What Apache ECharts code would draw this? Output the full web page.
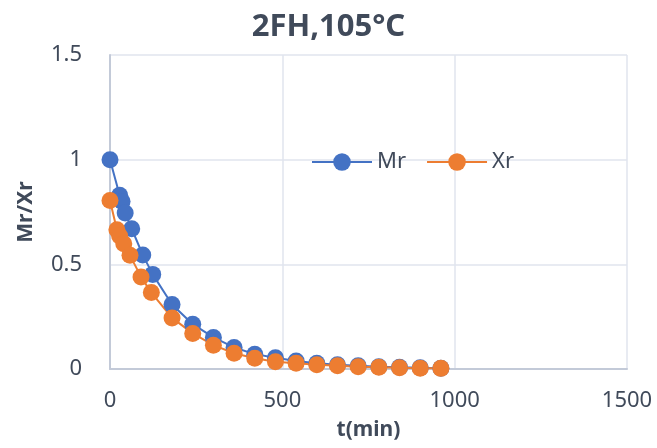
<!DOCTYPE html>
<html>
<head>
<meta charset="utf-8">
<script src="https://cdn.jsdelivr.net/npm/echarts@6/dist/echarts.min.js"></script>
<style>html,body{margin:0;padding:0;background:#fff}#c{width:657px;height:448px}</style>
</head>
<body>
<div id="c"></div>
<script>
const titleText = '2FH,105°C';
const xTicks = [0, 500, 1000, 1500];
const yTicks = [0, 0.5, 1, 1.5];
const mrTime = [0, 28, 35, 44, 63, 95, 124, 180, 240, 300, 360, 420, 480, 540, 600, 660, 720, 780, 840, 900, 960];
const mrValues = [1.0, 0.83, 0.80, 0.745, 0.67, 0.545, 0.452, 0.308, 0.214, 0.151, 0.103, 0.071, 0.054, 0.038, 0.028, 0.02, 0.015, 0.011, 0.008, 0.006, 0.004];
const xrTime = [0, 20, 28, 40, 58, 90, 120, 180, 240, 300, 360, 420, 480, 540, 600, 660, 720, 780, 840, 900, 960];
const xrValues = [0.805, 0.665, 0.635, 0.598, 0.543, 0.44, 0.365, 0.244, 0.17, 0.114, 0.075, 0.051, 0.035, 0.028, 0.02, 0.015, 0.011, 0.008, 0.006, 0.004, 0.003];

const txt = '#404a5a';
const font = '"Noto Sans", "Open Sans", sans-serif';
const chart = echarts.init(document.getElementById('c'), null, {renderer: 'canvas'});
chart.setOption({
  animation: false,
  backgroundColor: '#ffffff',
  title: {
    text: titleText, left: 'center', top: 7,
    textStyle: {fontFamily: font, fontSize: 31, fontWeight: 'bold', color: txt}
  },
  legend: {
    left: 306, top: 146, itemWidth: 60, itemHeight: 22, itemGap: 20,
    textStyle: {fontFamily: font, fontSize: 22, color: txt},
    data: ['Mr', 'Xr']
  },
  grid: {left: 110, right: 30, top: 55, bottom: 79, containLabel: false},
  xAxis: {
    type: 'value', min: xTicks[0], max: xTicks[xTicks.length - 1], interval: 500,
    name: 't(min)', nameLocation: 'middle', nameGap: 51,
    nameTextStyle: {fontFamily: font, fontSize: 21, fontWeight: 'bold', color: txt},
    axisLine: {show: true, lineStyle: {color: '#c3cad8', width: 2}},
    axisTick: {show: false},
    axisLabel: {fontFamily: font, fontSize: 22, color: txt, margin: 21, formatter: v => String(v)},
    splitLine: {show: true, lineStyle: {color: '#e1e5ee', width: 1.5}}
  },
  yAxis: {
    type: 'value', min: yTicks[0], max: yTicks[yTicks.length - 1], interval: 0.5,
    name: 'Mr/Xr', nameLocation: 'middle', nameGap: 73,
    nameTextStyle: {fontFamily: font, fontSize: 21, fontWeight: 'bold', color: txt},
    axisLine: {show: true, lineStyle: {color: '#c3cad8', width: 2}},
    axisTick: {show: false},
    axisLabel: {fontFamily: font, fontSize: 22, color: txt, margin: 28, formatter: v => String(v)},
    splitLine: {show: true, lineStyle: {color: '#e1e5ee', width: 1.5}}
  },
  series: [
    {
      name: 'Mr', type: 'line', symbol: 'circle', symbolSize: 17,
      data: mrTime.map((t, i) => [t, mrValues[i]]),
      itemStyle: {color: '#4472C4'},
      lineStyle: {color: '#4472C4', width: 2}
    },
    {
      name: 'Xr', type: 'line', symbol: 'circle', symbolSize: 17,
      data: xrTime.map((t, i) => [t, xrValues[i]]),
      itemStyle: {color: '#ED7D31'},
      lineStyle: {color: '#ED7D31', width: 2}
    }
  ]
});
</script>
</body>
</html>
